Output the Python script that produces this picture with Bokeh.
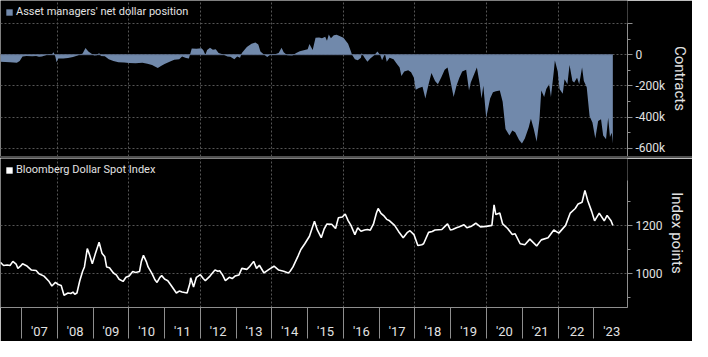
from bokeh.plotting import figure
from bokeh.models import Range1d, FixedTicker, Legend, LegendItem, Div
from bokeh.layouts import column
from bokeh.embed import file_html
from bokeh.resources import INLINE

# ---- Asset managers' net dollar position (thousands of contracts) ----
pos_years = [2006.41, 2006.55, 2006.68, 2006.87, 2006.95, 2007.03, 2007.14, 2007.30, 2007.41, 2007.49,
             2007.57, 2007.68, 2007.76, 2007.85, 2007.90, 2007.95, 2007.98, 2008.03, 2008.17, 2008.30,
             2008.44, 2008.57, 2008.71, 2008.79, 2008.87, 2008.93, 2009.03, 2009.11, 2009.17, 2009.22,
             2009.33, 2009.44, 2009.57, 2009.71, 2009.87, 2010.01, 2010.19, 2010.38, 2010.52, 2010.65,
             2010.73, 2010.81, 2010.90, 2011.00, 2011.14, 2011.27, 2011.41, 2011.49, 2011.60, 2011.68,
             2011.76, 2011.89, 2012.03, 2012.08, 2012.14, 2012.19, 2012.27, 2012.35, 2012.43, 2012.51,
             2012.62, 2012.76, 2012.84, 2012.95, 2013.03, 2013.11, 2013.16, 2013.30, 2013.43, 2013.54,
             2013.62, 2013.68, 2013.76, 2013.87, 2013.97, 2014.11, 2014.19, 2014.27, 2014.33, 2014.43,
             2014.57, 2014.68, 2014.78, 2014.89, 2015.00, 2015.05, 2015.14, 2015.22, 2015.32, 2015.40,
             2015.49, 2015.54, 2015.59, 2015.65, 2015.73, 2015.81, 2015.89, 2016.00, 2016.13, 2016.21,
             2016.24, 2016.32, 2016.40, 2016.49, 2016.51, 2016.59, 2016.67, 2016.75, 2016.86, 2016.95,
             2017.03, 2017.08, 2017.16, 2017.21, 2017.29, 2017.40, 2017.48, 2017.57, 2017.62, 2017.70,
             2017.81, 2017.89, 2017.97, 2018.02, 2018.11, 2018.21, 2018.29, 2018.37, 2018.46, 2018.56,
             2018.64, 2018.73, 2018.83, 2018.91, 2018.99, 2019.08, 2019.16, 2019.24, 2019.32, 2019.43,
             2019.51, 2019.56, 2019.65, 2019.73, 2019.81, 2019.86, 2019.91, 2019.99, 2020.10, 2020.18,
             2020.26, 2020.37, 2020.45, 2020.53, 2020.64, 2020.72, 2020.80, 2020.91, 2020.99, 2021.07,
             2021.18, 2021.24, 2021.32, 2021.40, 2021.48, 2021.53, 2021.61, 2021.67, 2021.75, 2021.80,
             2021.88, 2021.91, 2021.99, 2022.04, 2022.13, 2022.18, 2022.26, 2022.32, 2022.40, 2022.45,
             2022.53, 2022.59, 2022.67, 2022.72, 2022.80, 2022.88, 2022.96, 2023.04, 2023.12, 2023.20,
             2023.26, 2023.34, 2023.40, 2023.45, 2023.50, 2023.53]
pos_values = [-45, -47, -48, -51, -40, -12, -8, -10, -9, -14,
              -12, -3, 2, 3, 16, -15, -48, -25, -25, -22,
              -15, -6, 8, 43, 20, 10, -6, -3, 10, -8,
              -10, -30, -40, -48, -50, -53, -55, -52, -58, -66,
              -75, -86, -72, -60, -45, -33, -30, -12, -22, -25,
              40, 38, 41, 30, 0, 30, 45, 32, 35, 10,
              2, -12, -14, -30, -12, -20, 10, 50, 70, 78,
              65, 20, 5, -15, 3, 5, 10, 45, 15, -3,
              -5, 10, 22, 28, 35, 68, 30, 108, 110, 105,
              115, 90, 130, 105, 125, 128, 120, 108, 70, 20,
              0, -30, -35, -20, 10, -20, -45, -25, -4, 20,
              -4, -35, 6, -45, -20, -29, -55, -82, -137, -107,
              -100, -113, -148, -225, -213, -205, -281, -199, -117, -168,
              -189, -148, -96, -82, -168, -271, -199, -148, -107, -96,
              -230, -178, -127, -82, -189, -281, -199, -404, -281, -240,
              -234, -230, -301, -476, -517, -486, -496, -547, -568, -537,
              -465, -410, -476, -558, -414, -230, -271, -219, -189, -271,
              -107, -37, -107, -219, -250, -158, -189, -66, -168, -178,
              -148, -189, -82, -168, -209, -394, -435, -537, -424, -414,
              -517, -541, -404, -527, -500, -568]

# ---- Bloomberg Dollar Spot Index (index points) ----
idx_years = [2006.41, 2006.50, 2006.60, 2006.68, 2006.76, 2006.85, 2006.90, 2006.98, 2007.03, 2007.14,
             2007.28, 2007.41, 2007.49, 2007.63, 2007.76, 2007.85, 2007.95, 2008.03, 2008.11, 2008.19,
             2008.30, 2008.38, 2008.44, 2008.49, 2008.55, 2008.63, 2008.71, 2008.76, 2008.84, 2008.90,
             2008.98, 2009.06, 2009.17, 2009.25, 2009.33, 2009.38, 2009.46, 2009.57, 2009.65, 2009.73,
             2009.84, 2009.92, 2010.01, 2010.11, 2010.19, 2010.30, 2010.35, 2010.41, 2010.49, 2010.54,
             2010.65, 2010.73, 2010.79, 2010.87, 2010.92, 2011.00, 2011.09, 2011.19, 2011.33, 2011.41,
             2011.49, 2011.63, 2011.71, 2011.73, 2011.81, 2011.89, 2012.00, 2012.08, 2012.14, 2012.27,
             2012.35, 2012.41, 2012.49, 2012.54, 2012.62, 2012.70, 2012.81, 2012.89, 2012.97, 2013.08,
             2013.16, 2013.30, 2013.38, 2013.49, 2013.57, 2013.65, 2013.78, 2013.92, 2014.06, 2014.19,
             2014.33, 2014.46, 2014.51, 2014.59, 2014.73, 2014.81, 2014.92, 2015.05, 2015.19, 2015.27,
             2015.38, 2015.46, 2015.54, 2015.67, 2015.78, 2015.86, 2015.97, 2016.05, 2016.13, 2016.21,
             2016.32, 2016.40, 2016.49, 2016.59, 2016.67, 2016.75, 2016.84, 2016.92, 2016.97, 2017.05,
             2017.14, 2017.21, 2017.29, 2017.43, 2017.54, 2017.67, 2017.78, 2017.86, 2017.97, 2018.08,
             2018.19, 2018.24, 2018.38, 2018.48, 2018.56, 2018.75, 2018.83, 2018.91, 2018.99, 2019.05,
             2019.16, 2019.24, 2019.37, 2019.45, 2019.56, 2019.70, 2019.83, 2019.99, 2020.15, 2020.21,
             2020.26, 2020.37, 2020.45, 2020.59, 2020.72, 2020.80, 2020.94, 2021.07, 2021.21, 2021.40,
             2021.53, 2021.72, 2021.88, 2022.02, 2022.21, 2022.34, 2022.48, 2022.56, 2022.67, 2022.75,
             2022.83, 2022.94, 2023.02, 2023.15, 2023.29, 2023.37, 2023.48, 2023.53]
idx_values = [1047, 1034, 1036, 1034, 1051, 1040, 1022, 1032, 1041, 1033,
              1015, 1013, 1000, 990, 970, 949, 964, 955, 951, 911,
              920, 918, 924, 915, 920, 971, 1010, 1028, 1104, 1080,
              1041, 1080, 1130, 1085, 1070, 1028, 1025, 1003, 995, 977,
              968, 985, 990, 1009, 1005, 1009, 1050, 1076, 1050, 1028,
              1000, 975, 964, 985, 992, 978, 971, 950, 920, 928,
              924, 920, 960, 983, 945, 985, 996, 980, 971, 990,
              1005, 1015, 1010, 1012, 995, 971, 985, 980, 990, 995,
              1022, 1018, 1030, 1051, 1022, 1035, 1003, 1018, 1031, 1015,
              1010, 1003, 1010, 1028, 1073, 1100, 1124, 1155, 1217, 1181,
              1149, 1185, 1206, 1205, 1187, 1232, 1235, 1247, 1220, 1200,
              1162, 1190, 1176, 1181, 1183, 1180, 1206, 1250, 1270, 1250,
              1238, 1225, 1219, 1200, 1175, 1149, 1170, 1178, 1162, 1117,
              1120, 1124, 1171, 1175, 1181, 1183, 1195, 1206, 1181, 1183,
              1190, 1194, 1203, 1190, 1195, 1209, 1194, 1196, 1200, 1285,
              1245, 1251, 1206, 1187, 1162, 1165, 1124, 1120, 1143, 1115,
              1140, 1149, 1181, 1168, 1200, 1251, 1270, 1289, 1296, 1345,
              1302, 1257, 1219, 1251, 1219, 1241, 1219, 1200]

# ---- axes / ticks ----
label_years = list(range(2007, 2024))
year_labels = ["'07", "'08", "'09", "'10", "'11", "'12", "'13", "'14", "'15",
               "'16", "'17", "'18", "'19", "'20", "'21", "'22", "'23"]
grid_years = [2008, 2010, 2012, 2014, 2016, 2018, 2020, 2022]
pos_ticks = [200, 0, -200, -400, -600]
pos_tick_labels = ["", "0", "-200k", "-400k", "-600k"]
pos_minor = [100, -100, -300, -500]
pos_axis_span = (-652, 200)
idx_ticks = [1000, 1200]
idx_tick_labels = ["1000", "1200"]
idx_minor = [900, 1100, 1300]
idx_axis_span = (860, 1385)

FONT = "Roboto"
TXT = "#e2e2e2"
AXC = "#8e8e8e"
GRIDC = "#555555"
FILL = "#7189ab"
W = 692
RB = 60

x_range = Range1d(2006.414, 2023.94)


def base_style(p):
    p.background_fill_color = "black"
    p.border_fill_color = "black"
    p.outline_line_color = None
    for g in p.grid:
        g.grid_line_color = GRIDC
        g.grid_line_dash = "2 2"
        g.grid_line_width = 1
    ya = p.yaxis[0]
    ya.axis_line_color = AXC
    ya.major_tick_line_color = AXC
    ya.minor_tick_line_color = AXC
    ya.major_tick_out = 5
    ya.major_tick_in = 0
    ya.minor_tick_out = 3
    ya.minor_tick_in = 0
    ya.major_label_text_color = TXT
    ya.major_label_text_font = FONT
    ya.major_label_text_font_size = "12px"
    ya.major_label_standoff = 3
    ya.axis_label_text_color = TXT
    ya.axis_label_text_font = FONT
    ya.axis_label_text_font_size = "15px"
    ya.axis_label_text_font_style = "normal"
    ya.axis_label_standoff = 3


def add_legend(p, label, renderer):
    leg = Legend(items=[LegendItem(label=label, renderers=[renderer])],
                 location="top_left", orientation="horizontal",
                 background_fill_alpha=0, border_line_alpha=0,
                 label_text_color=TXT, label_text_font=FONT,
                 label_text_font_size="11px",
                 glyph_width=8, glyph_height=8, label_height=12,
                 label_standoff=3, padding=0, margin=5, spacing=0)
    p.add_layout(leg, "center")


# ---- top panel ----
p1 = figure(width=W, height=156, x_range=x_range, y_range=Range1d(-652, 347),
            x_axis_location=None, y_axis_location="right",
            output_backend="svg", toolbar_location=None,
            min_border_left=0, min_border_right=RB, min_border_top=0, min_border_bottom=0)
area = p1.varea(x=pos_years, y1=0, y2=pos_values, fill_color=FILL, fill_alpha=1)
p1.line(x=[pos_years[0], pos_years[-1]], y=[0, 0], line_color="#5d6f8c", line_width=1)
base_style(p1)
p1.xgrid.ticker = FixedTicker(ticks=grid_years)
p1.yaxis.ticker = FixedTicker(ticks=pos_ticks, minor_ticks=pos_minor)
p1.yaxis.major_label_overrides = dict(zip(pos_ticks, pos_tick_labels))
p1.yaxis.bounds = pos_axis_span
p1.yaxis.axis_label = "Contracts"
add_legend(p1, "Asset managers' net dollar position", area)

sep = Div(width=W, height=2, margin=0, styles={"background-color": "#505050"})

# ---- bottom panel ----
p2 = figure(width=W, height=183, x_range=x_range, y_range=Range1d(860, 1477),
            x_axis_location="below", y_axis_location="right",
            output_backend="svg", toolbar_location=None,
            min_border_left=0, min_border_right=RB, min_border_top=0, min_border_bottom=0)
p2.line(x=idx_years, y=idx_values, line_color="white", line_width=1.6)
# zero-height area: only used to give the legend its white square swatch
swatch = p2.varea(x=idx_years, y1=idx_values, y2=idx_values, fill_color="white", fill_alpha=1)
base_style(p2)
p2.xgrid.ticker = FixedTicker(ticks=grid_years)
p2.yaxis.ticker = FixedTicker(ticks=idx_ticks, minor_ticks=idx_minor)
p2.yaxis.major_label_overrides = dict(zip(idx_ticks, idx_tick_labels))
p2.yaxis.bounds = idx_axis_span
p2.yaxis.axis_label = "Index points"

label_pos = [y + 0.5 for y in label_years]
xa = p2.xaxis[0]
xa.ticker = FixedTicker(ticks=label_pos, minor_ticks=label_years)
xa.major_label_overrides = dict(zip(label_pos, year_labels))
xa.axis_line_color = AXC
xa.major_tick_line_color = None
xa.major_tick_out = 0
xa.major_tick_in = 0
xa.minor_tick_line_color = AXC
xa.minor_tick_out = 31
xa.minor_tick_in = 0
xa.major_label_text_color = TXT
xa.major_label_text_font = FONT
xa.major_label_text_font_size = "13px"
xa.major_label_standoff = -15
xa.axis_label_standoff = 0
add_legend(p2, "Bloomberg Dollar Spot Index", swatch)

layout = column(p1, sep, p2, spacing=0)

open("out.html", "w").write(file_html(layout, INLINE))
